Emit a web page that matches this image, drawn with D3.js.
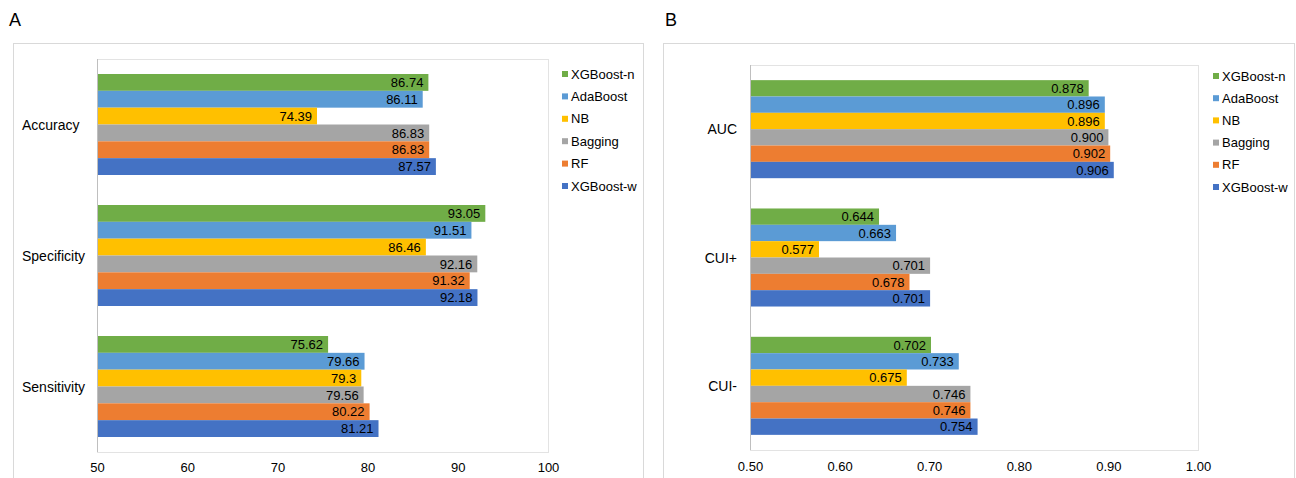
<!DOCTYPE html>
<html>
<head>
<meta charset="utf-8">
<script src="https://cdn.jsdelivr.net/npm/d3@7"></script>
<style>
  html, body { margin: 0; padding: 0; background: #fff; }
  svg { display: block; font-family: "Liberation Sans", Arial, sans-serif; }
</style>
</head>
<body>
<svg id="chart" width="1296" height="478"></svg>
<script>
// Model names, top-to-bottom within each group
const models = ["XGBoost-n", "AdaBoost", "NB", "Bagging", "RF", "XGBoost-w"];
const colors = ["#70ad47", "#5b9bd5", "#ffc000", "#a5a5a5", "#ed7d31", "#4472c4"];

// Panel A: percentage metrics
const metricsA = ["Accuracy", "Specificity", "Sensitivity"];
const accuracy    = [86.74, 86.11, 74.39, 86.83, 86.83, 87.57];
const specificity = [93.05, 91.51, 86.46, 92.16, 91.32, 92.18];
const sensitivity = [75.62, 79.66, 79.3, 79.56, 80.22, 81.21];
const ticksA = [50, 60, 70, 80, 90, 100];

// Panel B: AUC and clinical utility indices
const metricsB = ["AUC", "CUI+", "CUI-"];
const auc     = [0.878, 0.896, 0.896, 0.900, 0.902, 0.906];
const cuiPos  = [0.644, 0.663, 0.577, 0.701, 0.678, 0.701];
const cuiNeg  = [0.702, 0.733, 0.675, 0.746, 0.746, 0.754];
const ticksB = [0.50, 0.60, 0.70, 0.80, 0.90, 1.00];

const svg = d3.select("#chart");

function panel(cfg) {
  const g = svg.append("g");

  // outer frame
  g.append("rect")
    .attr("x", cfg.frame[0] + 0.5).attr("y", cfg.frame[1] + 0.5)
    .attr("width", cfg.frame[2]).attr("height", cfg.frame[3])
    .attr("fill", "none").attr("stroke", "#d9d9d9").attr("stroke-width", 1);

  // panel letter
  g.append("text")
    .attr("x", cfg.letterX).attr("y", 26)
    .attr("font-size", 18).attr("fill", "#000")
    .text(cfg.letter);

  const x = d3.scaleLinear().domain(cfg.domain).range([cfg.left, cfg.right]);
  const y = d3.scaleBand().domain(cfg.metrics).range([cfg.top, cfg.bottom])
    .paddingInner(cfg.pad).paddingOuter(cfg.pad / 2);
  const yi = d3.scaleBand().domain(models).range([0, y.bandwidth()]);

  // plot area border
  g.append("rect")
    .attr("x", cfg.left + 0.5).attr("y", cfg.top + 0.5)
    .attr("width", cfg.right - cfg.left).attr("height", cfg.bottom - cfg.top)
    .attr("fill", "none").attr("stroke", "#e3e3e3");

  const rows = [];
  cfg.metrics.forEach((m, i) => {
    cfg.values[i].forEach((v, j) => rows.push({ metric: m, model: models[j], value: v, color: colors[j] }));
  });

  const bars = g.append("g");
  bars.selectAll("rect").data(rows).join("rect")
    .attr("x", x(cfg.domain[0]))
    .attr("y", d => y(d.metric) + yi(d.model))
    .attr("width", d => x(d.value) - x(cfg.domain[0]))
    .attr("height", yi.bandwidth())
    .attr("fill", d => d.color);

  bars.selectAll("text").data(rows).join("text")
    .attr("x", d => x(d.value) - 5)
    .attr("y", d => y(d.metric) + yi(d.model) + yi.bandwidth() / 2)
    .attr("dy", "0.36em")
    .attr("text-anchor", "end")
    .attr("font-size", 13).attr("fill", "#000")
    .text(d => cfg.fmt(d.value));

  // category axis line
  g.append("line")
    .attr("x1", cfg.left + 0.5).attr("x2", cfg.left + 0.5)
    .attr("y1", cfg.top).attr("y2", cfg.bottom)
    .attr("stroke", "#bfbfbf");

  // category labels
  g.selectAll("text.cat").data(cfg.metrics).join("text")
    .attr("class", "cat")
    .attr("x", cfg.catX)
    .attr("y", d => y(d) + y.bandwidth() / 2)
    .attr("dy", "0.36em")
    .attr("text-anchor", cfg.catAnchor)
    .attr("font-size", 14).attr("fill", "#000")
    .text(d => d);

  // value axis
  const ax = d3.axisBottom(x).tickValues(cfg.ticks).tickSize(0).tickPadding(0)
    .tickFormat(cfg.tickFmt);
  const axG = g.append("g").attr("transform", `translate(0,${cfg.tickY})`).call(ax);
  axG.select(".domain").remove();
  axG.selectAll("text").attr("font-size", 13).attr("fill", "#000")
    .attr("font-family", "'Liberation Sans', Arial, sans-serif")
    .attr("dy", "0.36em");

  // legend
  const lg = g.append("g");
  models.forEach((m, j) => {
    const ly = cfg.legendY0 + j * cfg.legendStep;
    lg.append("rect").attr("x", cfg.legendX).attr("y", ly - 3).attr("width", 6).attr("height", 6)
      .attr("fill", colors[j]);
    lg.append("text").attr("x", cfg.legendX + 9).attr("y", ly).attr("dy", "0.36em")
      .attr("font-size", 13).attr("fill", "#000").text(m);
  });
}

panel({
  letter: "A", letterX: 9,
  frame: [13, 43, 630, 460],
  metrics: metricsA, values: [accuracy, specificity, sensitivity],
  domain: [50, 100], ticks: ticksA, tickFmt: d3.format("d"),
  fmt: v => String(v),
  left: 97, right: 548, top: 59, bottom: 452, pad: 0.229,
  catX: 22, catAnchor: "start",
  tickY: 467,
  legendX: 562, legendY0: 74, legendStep: 22.4
});

panel({
  letter: "B", letterX: 665,
  frame: [663, 43, 631, 460],
  metrics: metricsB, values: [auc, cuiPos, cuiNeg],
  domain: [0.5, 1.0], ticks: ticksB, tickFmt: d3.format(".2f"),
  fmt: v => v.toFixed(3),
  left: 750, right: 1198, top: 65, bottom: 450, pad: 0.236,
  catX: 737, catAnchor: "end",
  tickY: 466,
  legendX: 1213, legendY0: 76, legendStep: 22.2
});
</script>
</body>
</html>
